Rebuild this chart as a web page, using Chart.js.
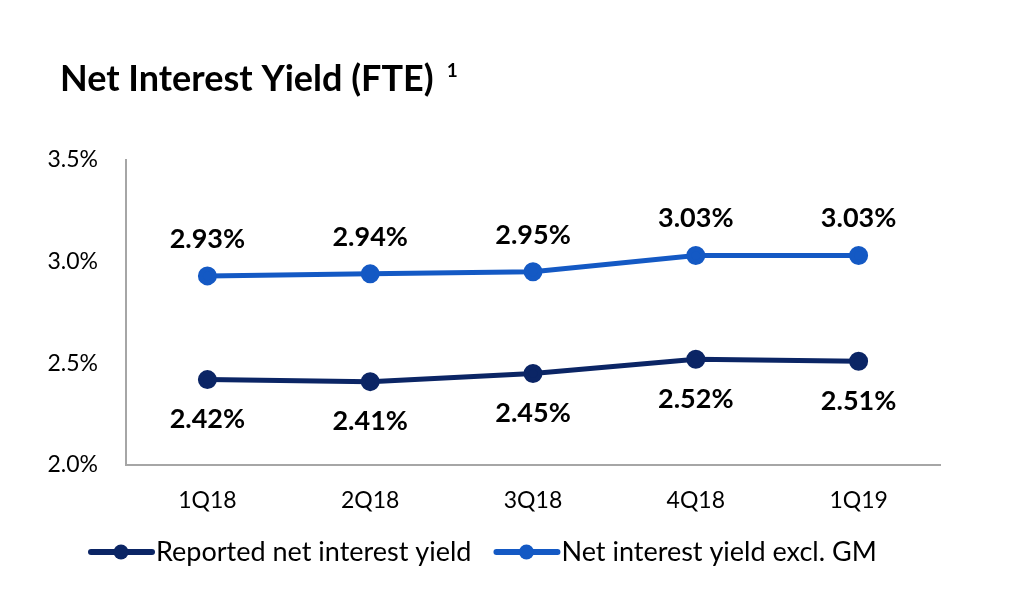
<!DOCTYPE html>
<html>
<head>
<meta charset="utf-8">
<script src="https://cdn.jsdelivr.net/npm/chart.js@4.4.1/dist/chart.umd.min.js"></script>
<style>
  html, body { margin: 0; padding: 0; background: #ffffff; }
  #wrap { position: relative; width: 1014px; height: 600px; }
</style>
</head>
<body>
<div id="wrap"><canvas id="c" width="1014" height="600"></canvas></div>
<script>
const categories = ['1Q18', '2Q18', '3Q18', '4Q18', '1Q19'];
const reportedYield = [2.42, 2.41, 2.45, 2.52, 2.51];
const exclGMYield = [2.93, 2.94, 2.95, 3.03, 3.03];
const yTicks = [2.0, 2.5, 3.0, 3.5];
const seriesNames = ['Reported net interest yield', 'Net interest yield excl. GM'];
const titleText = 'Net Interest Yield (FTE)';
const titleNote = '1';

const FONT = 'Lato, "Open Sans", "Noto Sans", sans-serif';
const NAVY = '#0b2565';
const BLUE = '#1459c4';

const titlePlugin = {
  id: 'titleText',
  afterDraw(chart) {
    const ctx = chart.ctx;
    ctx.save();
    ctx.fillStyle = '#000';
    ctx.textBaseline = 'middle';
    ctx.textAlign = 'left';
    ctx.font = 'bold 36px ' + FONT;
    ctx.fillText(titleText, 60, 79);
    const w = ctx.measureText(titleText).width;
    ctx.font = 'bold 19px ' + FONT;
    ctx.fillText(titleNote, 60 + w + 13, 71);
    ctx.restore();
  }
};

const valueLabels = {
  id: 'valueLabels',
  afterDatasetsDraw(chart) {
    const ctx = chart.ctx;
    ctx.save();
    ctx.font = 'bold 27px ' + FONT;
    ctx.fillStyle = '#000';
    ctx.textAlign = 'center';
    ctx.textBaseline = 'middle';
    chart.data.datasets.forEach((ds, di) => {
      const meta = chart.getDatasetMeta(di);
      meta.data.forEach((pt, i) => {
        const v = ds.data[i];
        const dy = ds.labelPos === 'above' ? -37 : 40;
        ctx.fillText(v.toFixed(2) + '%', pt.x, pt.y + dy);
      });
    });
    ctx.restore();
  }
};

const customLegend = {
  id: 'customLegend',
  afterDraw(chart) {
    const ctx = chart.ctx;
    ctx.save();
    ctx.font = '27px ' + FONT;
    ctx.textBaseline = 'middle';
    ctx.textAlign = 'left';
    const y = 552;
    let x = 91;
    chart.data.datasets.forEach((ds) => {
      ctx.strokeStyle = ds.borderColor;
      ctx.lineWidth = 6;
      ctx.lineCap = 'round';
      ctx.beginPath();
      ctx.moveTo(x, y);
      ctx.lineTo(x + 61, y);
      ctx.stroke();
      ctx.fillStyle = ds.borderColor;
      ctx.beginPath();
      ctx.arc(x + 30, y, 7.5, 0, Math.PI * 2);
      ctx.fill();
      ctx.fillStyle = '#000';
      ctx.fillText(ds.label, x + 65, y);
      x += 65 + ctx.measureText(ds.label).width + 25;
    });
    ctx.restore();
  }
};

new Chart(document.getElementById('c'), {
  type: 'line',
  data: {
    labels: categories,
    datasets: [
      {
        label: seriesNames[0],
        data: reportedYield,
        borderColor: NAVY,
        backgroundColor: NAVY,
        borderWidth: 5,
        pointRadius: 7,
        pointHoverRadius: 7,
        tension: 0,
        labelPos: 'below'
      },
      {
        label: seriesNames[1],
        data: exclGMYield,
        borderColor: BLUE,
        backgroundColor: BLUE,
        borderWidth: 5,
        pointRadius: 7,
        pointHoverRadius: 7,
        tension: 0,
        labelPos: 'above'
      }
    ]
  },
  options: {
    responsive: false,
    animation: false,
    devicePixelRatio: 1,
    layout: { padding: { top: 160, right: 74, left: 0, bottom: 0 } },
    plugins: {
      legend: { display: false },
      title: { display: false },
      tooltip: { enabled: false }
    },
    scales: {
      x: {
        offset: true,
        grid: { display: false, drawTicks: false },
        border: { display: true, color: '#a6a6a6', width: 2 },
        ticks: { color: '#000', font: { family: FONT, size: 23 }, padding: 22 },
        afterFit(s) { s.height = 135; }
      },
      y: {
        min: 2.0,
        max: 3.5,
        grid: { display: false, drawTicks: false },
        border: { display: true, color: '#a6a6a6', width: 2 },
        afterBuildTicks(s) { s.ticks = yTicks.map(v => ({ value: v })); },
        ticks: {
          color: '#000',
          font: { family: FONT, size: 23 },
          padding: 28,
          callback: (v) => Number(v).toFixed(1) + '%'
        },
        afterFit(s) { s.width = 126; }
      }
    }
  },
  plugins: [titlePlugin, valueLabels, customLegend]
});
</script>
</body>
</html>
